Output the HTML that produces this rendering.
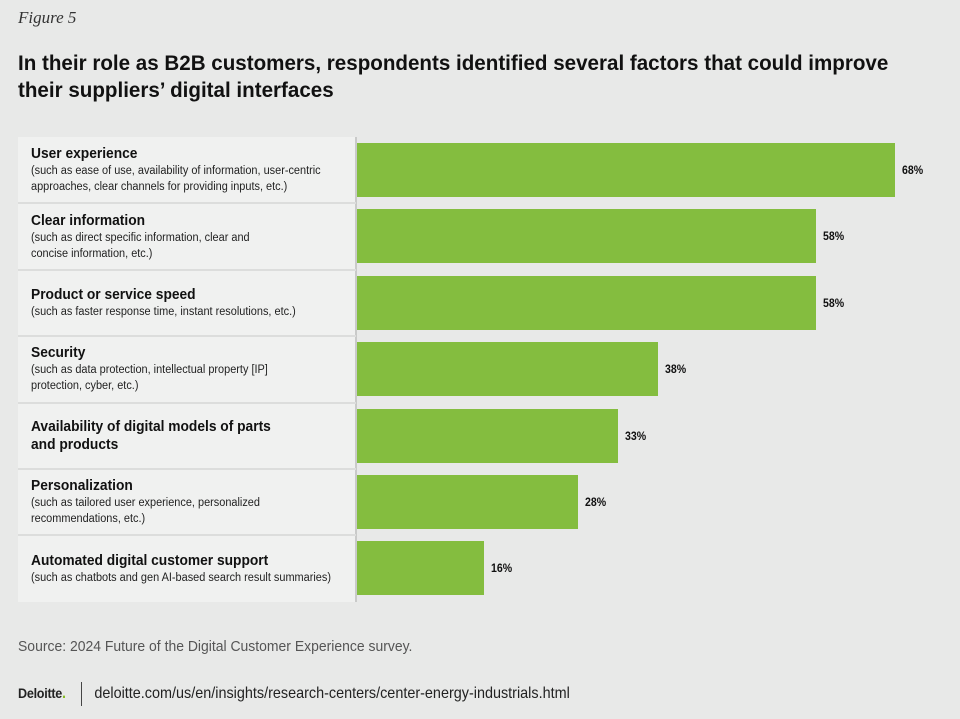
<!DOCTYPE html>
<html><head><meta charset="utf-8"><style>
body{margin:0;width:960px;height:719px;background:#e8e9e8;font-family:"Liberation Sans",sans-serif;position:relative;overflow:hidden;color:#111}
.abs{position:absolute}
.sq{transform:scaleX(0.95);transform-origin:left top;white-space:nowrap}
.fig{left:18px;top:8px;font-family:"Liberation Serif",serif;font-style:italic;font-size:17px;color:#333}
.title{left:18px;top:50px;font-size:21px;font-weight:bold;line-height:27px;color:#111}
#panel{left:18px;top:137px;width:338px;height:465px;background:#f0f1f0}
#vline{left:355px;top:137px;width:2px;height:465px;background:#c9cac9}
.lab{position:absolute;left:31px}
.lab b{display:block;font-size:14.5px;line-height:18px}
.lab span{display:block;font-size:11.5px;line-height:16px;color:#222}
.sep{position:absolute;left:18px;width:338px;height:2px;background:#dcdddc}
.bar{position:absolute;background:#84bd3f}
.val{position:absolute;font-size:12px;font-weight:bold;transform:scaleX(0.88);transform-origin:left center}
.src{left:18px;top:638px;font-size:15px;color:#555}
.foot{left:18px;top:682px;font-size:16px;color:#222}
</style></head><body>
<div class="abs fig">Figure 5</div>
<div class="abs title">
<div class="sq" style="transform:scaleX(0.98)">In their role as B2B customers, respondents identified several factors that could improve</div>
<div class="sq" style="transform:scaleX(0.98)">their suppliers’ digital interfaces</div></div>
<div class="abs" id="panel"></div>
<div class="abs" id="vline"></div>
<div id="chart"></div>
<div class="abs src"><div class="sq" style="transform:scaleX(0.93)">Source: 2024 Future of the Digital Customer Experience survey.</div></div>
<div class="abs foot"><div class="sq" style="transform:scaleX(0.9)"><b style="font-size:14px;letter-spacing:-0.3px">Deloitte</b><span style="color:#86bc25;font-weight:bold">.</span> <span style="display:inline-block;width:1px;height:24px;background:#333;vertical-align:middle;margin:0 14px 0 12px"></span>deloitte.com/us/en/insights/research-centers/center-energy-industrials.html</div></div>
<script>
const categories=["User experience","Clear information","Product or service speed","Security","Availability of digital models of parts and products","Personalization","Automated digital customer support"];
const subtitles=[["(such as ease of use, availability of information, user-centric","approaches, clear channels for providing inputs, etc.)"],["(such as direct specific information, clear and","concise information, etc.)"],["(such as faster response time, instant resolutions, etc.)"],["(such as data protection, intellectual property [IP]","protection, cyber, etc.)"],[],["(such as tailored user experience, personalized","recommendations, etc.)"],["(such as chatbots and gen AI-based search result summaries)"]];
const titleLines=[["User experience"],["Clear information"],["Product or service speed"],["Security"],["Availability of digital models of parts","and products"],["Personalization"],["Automated digital customer support"]];
const values=[68,58,58,38,33,28,16];
const valueLabels=["68%","58%","58%","38%","33%","28%","16%"];
const c=document.getElementById('chart');
const x0=357,pxPer=7.91,top0=137,rowH=66.4;
const xs=v=>v*pxPer;
values.forEach((v,i)=>{
 const y=top0+i*rowH;
 if(i>0){const s=document.createElement('div');s.className='sep';s.style.top=(y-1)+'px';
 
 c.appendChild(s);}
 const b=document.createElement('div');b.className='bar';
 b.style.left=x0+'px';b.style.top=(y+6)+'px';b.style.height='54px';b.style.width=xs(v)+'px';
 
 c.appendChild(b);
 const t=document.createElement('div');t.className='val';t.textContent=valueLabels[i];
 t.style.left=(x0+xs(v)+7)+'px';t.style.top=(y+26)+'px';
 
 c.appendChild(t);
 const l=document.createElement('div');l.className='lab sq';
 const lines=titleLines[i],subs=subtitles[i];
 const h=lines.length*18+subs.length*16;
 l.style.top=(y+(rowH-h)/2)+'px';
 l.innerHTML=lines.map(s=>'<b>'+s+'</b>').join('')+subs.map(s=>'<span>'+s+'</span>').join('');
 
 c.appendChild(l);
});
</script>
</body></html>
